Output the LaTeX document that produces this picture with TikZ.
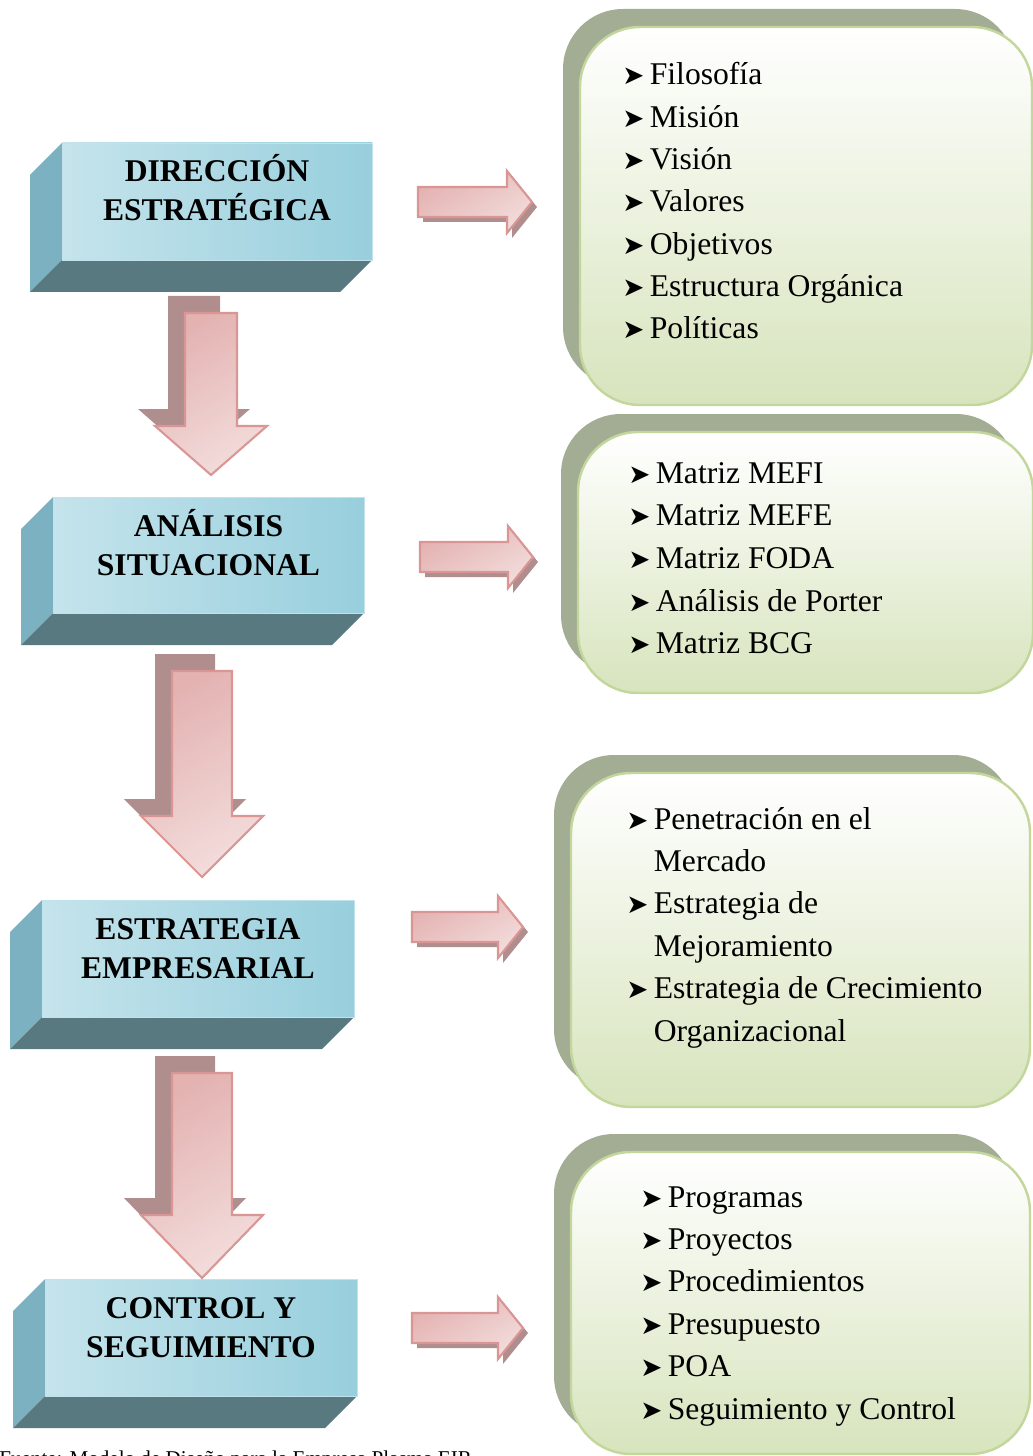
\documentclass[tikz,border=0pt]{standalone}
\usepackage{fontspec}
\setmainfont{Liberation Serif}
\newfontfamily\symfont{DejaVu Sans}
\usetikzlibrary{positioning}
\definecolor{frontlight}{HTML}{DDEFF4}
\definecolor{frontdark}{HTML}{98CFDD}
\definecolor{sideleft}{HTML}{7BB1C1}
\definecolor{sidebottom}{HTML}{58797F}
\definecolor{arrowlight}{HTML}{F2DCDB}
\definecolor{arrowdark}{HTML}{E3B2B1}
\definecolor{arrowline}{HTML}{D99694}
\definecolor{arrowshadow}{HTML}{B08E8E}
\definecolor{greenlight}{HTML}{FFFFFF}
\definecolor{greendark}{HTML}{D7E4BD}
\definecolor{greenline}{HTML}{C3D69B}
\definecolor{greenshadow}{HTML}{A3AD94}
\tikzset{
  x=0.02cm, y=-0.02cm,
  front/.style={left color=frontdark!35!frontlight, middle color=frontlight, right color=frontdark,
    draw=frontdark!60!white, line width=0.5pt},
  stage/.style={font=\fontsize{18}{21.6}\selectfont\bfseries, anchor=base, inner sep=0pt},
  item/.style={font=\fontsize{18}{24}\selectfont, anchor=base west, inner sep=0pt},
  blockarrow/.style={left color=arrowdark, right color=arrowlight, shading angle=30,
    draw=arrowline, line width=1.2pt, line join=miter},
  arrowshade/.style={fill=arrowshadow},
  listbox/.style={top color=greenlight, bottom color=greendark, draw=greenline,
    line width=1.4pt, rounded corners=1.2cm},
  listshade/.style={fill=greenshadow, rounded corners=1.2cm},
}
\newcommand{\bul}{\makebox[0.55cm][l]{\symfont\fontsize{15}{15}\selectfont ➤}}
\newcommand{\gap}{\hspace*{0.55cm}}

\begin{document}
\begin{tikzpicture}
  \useasboundingbox (0,0) rectangle (1033,1456);

  % stages (3d boxes)
  \foreach \i/\xa/\ya/\xb/\yb/\la/\lb in {
      1/62/143/372/260/DIRECCIÓN/ESTRATÉGICA,
      2/53/497/364/613/ANÁLISIS/SITUACIONAL,
      3/42/900/354/1017/ESTRATEGIA/EMPRESARIAL,
      4/45/1279/357/1396/CONTROL Y/SEGUIMIENTO}{
    \fill[sideleft] (\xa,\ya) -- (\xa,\yb) -- (\xa-32,\yb+32) -- (\xa-32,\ya+32) -- cycle;
    \fill[sidebottom] (\xa,\yb) -- (\xb,\yb) -- (\xb-32,\yb+32) -- (\xa-32,\yb+32) -- cycle;
    \shade[front] (\xa,\ya) rectangle (\xb,\yb);
    \node[stage] (s\i a) at ({(\xa+\xb)/2},\ya+39) {\la};
    \node[stage] (s\i b) at ({(\xa+\xb)/2},\ya+78) {\lb};
  }

  % down arrows
  \foreach \cx/\top/\sw/\hs/\hw/\tip in {211/313/26/426/56/475, 202/671/30/816/61/877, 202/1073/30/1215/61/1278}{
    \fill[arrowshade, shift={(-17,-17)}] (\cx-\sw,\top) -- (\cx+\sw,\top) -- (\cx+\sw,\hs) -- (\cx+\hw,\hs)
      -- (\cx,\tip) -- (\cx-\hw,\hs) -- (\cx-\sw,\hs) -- cycle;
    \shade[blockarrow] (\cx-\sw,\top) -- (\cx+\sw,\top) -- (\cx+\sw,\hs) -- (\cx+\hw,\hs)
      -- (\cx,\tip) -- (\cx-\hw,\hs) -- (\cx-\sw,\hs) -- cycle;
  }

  % right arrows
  \foreach \xa/\cy/\hx/\tip in {418/202/507/532, 420/557/508/533, 412/927/498/523, 412/1328/498/523}{
    \fill[arrowshade, shift={(5,5)}] (\xa,\cy-15) -- (\hx,\cy-15) -- (\hx,\cy-31) -- (\tip,\cy)
      -- (\hx,\cy+31) -- (\hx,\cy+15) -- (\xa,\cy+15) -- cycle;
    \shade[blockarrow] (\xa,\cy-15) -- (\hx,\cy-15) -- (\hx,\cy-31) -- (\tip,\cy)
      -- (\hx,\cy+31) -- (\hx,\cy+15) -- (\xa,\cy+15) -- cycle;
  }

  % list boxes
  \foreach \xa/\ya/\xb/\yb in {580/27/1032/405, 578/432/1033/693, 571/773/1030/1107, 571/1152/1030/1454}{
    \fill[listshade] (\xa-17,\ya-18) rectangle (\xb-17,\yb-18);
    \shade[listbox] (\xa,\ya) rectangle (\xb,\yb);
  }

  % lists
  \foreach \t [count=\i] in {Filosofía, Misión, Visión, Valores, Objetivos, Estructura Orgánica, Políticas}
    \node[item] (f\i) at (622,{85+42.3*(\i-1)}) {\bul\t};
  \foreach \t [count=\i] in {Matriz MEFI, Matriz MEFE, Matriz FODA, Análisis de Porter, Matriz BCG}
    \node[item] (m\i) at (628,{483+42.7*(\i-1)}) {\bul\t};
  \foreach \t [count=\i] in {\bul Penetración en el, \gap Mercado, \bul Estrategia de, \gap Mejoramiento,
      \bul Estrategia de Crecimiento, \gap Organizacional}
    \node[item] (e\i) at (626,{829+42.4*(\i-1)}) {\t};
  \foreach \t [count=\i] in {Programas, Proyectos, Procedimientos, Presupuesto, POA, Seguimiento y Control}
    \node[item] (c\i) at (640,{1207+42.4*(\i-1)}) {\bul\t};

  % source (cut by the page)
  \node[anchor=base west, inner sep=0pt, font=\fontsize{12}{14}\selectfont] (src) at (-1,1465)
    {Fuente: Modelo de Diseño para la Empresa Plasma EIR};
\end{tikzpicture}
\end{document}
